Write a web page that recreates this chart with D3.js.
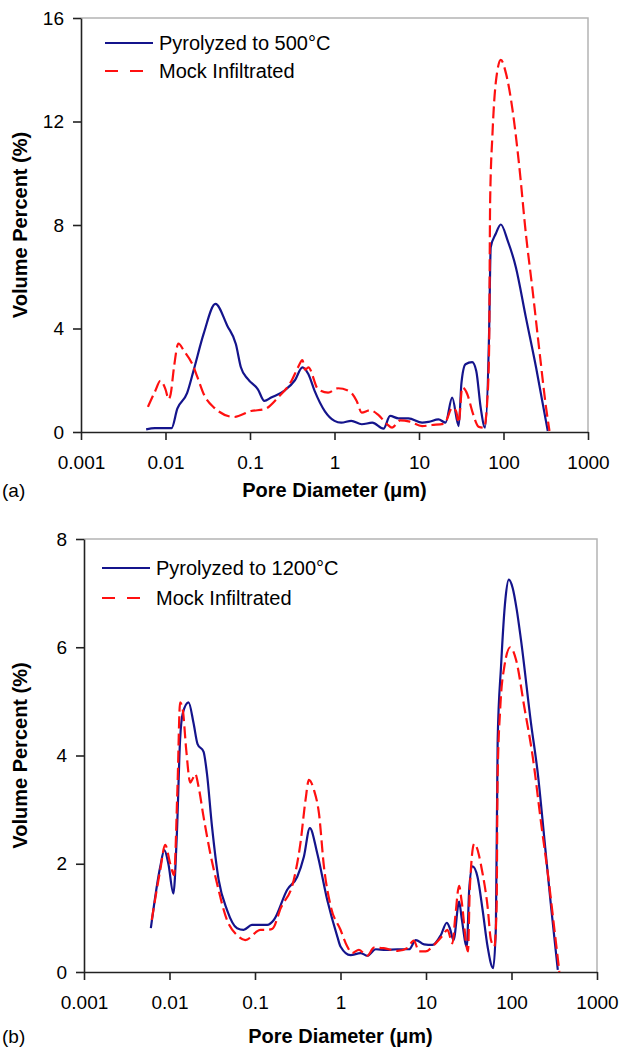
<!DOCTYPE html>
<html>
<head>
<meta charset="utf-8">
<script src="https://cdn.jsdelivr.net/npm/d3@7"></script>
<style>
  body { margin: 0; background: #fff; }
  svg { display: block; font-family: "Liberation Sans", Arial, sans-serif; }
</style>
</head>
<body>
<script>
// x ticks (pore diameter, um) shared by both panels
const xTicks = [0.001, 0.01, 0.1, 1, 10, 100, 1000];
const xTickLabels = ["0.001", "0.01", "0.1", "1", "10", "100", "1000"];

// panel (a) - pyrolyzed to 500C vs mock infiltrated
const aTicksY = [0, 4, 8, 12, 16];
const aBlueX = [0.0059, 0.0075, 0.0095, 0.0118, 0.0138, 0.018, 0.0216, 0.0283, 0.039, 0.054, 0.068, 0.078, 0.094, 0.124, 0.148, 0.178, 0.256, 0.34, 0.417, 0.49, 0.58, 0.77, 1.0, 1.2, 1.58, 2.1, 2.8, 3.8, 4.55, 5.7, 7.5, 10.9, 13, 17, 20.6, 24.7, 29.5, 31.8, 35.5, 42.6, 47.6, 53.7, 60.5, 67.6, 70.6, 81, 93, 112, 140, 184, 243, 334];
const aBlueY = [0.1, 0.15, 0.15, 0.15, 0.9, 1.5, 2.4, 3.8, 4.95, 4.1, 3.4, 2.5, 2.05, 1.65, 1.2, 1.33, 1.6, 2.0, 2.5, 2.24, 1.6, 0.8, 0.43, 0.36, 0.43, 0.3, 0.36, 0.13, 0.62, 0.53, 0.53, 0.36, 0.39, 0.49, 0.36, 1.33, 0.23, 1.9, 2.62, 2.7, 2.36, 0.94, 0.17, 3.9, 7.14, 7.66, 8.02, 7.4, 6.37, 4.43, 2.49, 0.04];
const aRedX = [0.0062, 0.0076, 0.0087, 0.01, 0.0109, 0.0115, 0.0126, 0.0142, 0.0165, 0.0208, 0.024, 0.0284, 0.0376, 0.065, 0.103, 0.148, 0.214, 0.31, 0.37, 0.417, 0.45, 0.49, 0.64, 0.84, 1.1, 1.52, 1.83, 2.1, 2.63, 3.3, 4.2, 4.8, 6.0, 7.8, 10.9, 14.3, 19.7, 21, 24.7, 27.5, 29.5, 32.5, 37.3, 42.6, 51, 58.8, 64.6, 67.6, 69.5, 74, 81, 93, 107, 128, 154, 184, 221, 266, 319, 350];
const aRedY = [0.97, 1.6, 1.98, 1.65, 1.27, 1.46, 2.5, 3.42, 3.14, 2.62, 2.1, 1.46, 0.94, 0.58, 0.81, 0.88, 1.33, 1.98, 2.5, 2.78, 2.4, 2.5, 1.65, 1.52, 1.69, 1.56, 1.2, 0.75, 0.84, 0.66, 0.3, 0.17, 0.45, 0.4, 0.23, 0.27, 0.32, 0.43, 0.94, 0.8, 0.36, 1.72, 1.46, 0.81, 0.2, 0.17, 1.33, 3.27, 8.95, 11.5, 13.5, 14.38, 13.86, 12.44, 10.24, 7.66, 5.47, 3.14, 0.94, 0.04];

// panel (b) - pyrolyzed to 1200C vs mock infiltrated
const bTicksY = [0, 2, 4, 6, 8];
const bBlueX = [0.00605, 0.0078, 0.0087, 0.0097, 0.0111, 0.0122, 0.0133, 0.0143, 0.0167, 0.0191, 0.0213, 0.025, 0.0274, 0.0314, 0.0376, 0.047, 0.0617, 0.0737, 0.092, 0.139, 0.166, 0.238, 0.312, 0.373, 0.438, 0.535, 0.70, 0.92, 1.0, 1.31, 1.72, 2.06, 2.58, 3.38, 4.63, 6.34, 7.6, 9.5, 11.9, 14.9, 17.5, 19, 21, 24.4, 26, 30, 32, 35, 40, 45.9, 52.5, 61, 65.7, 68.9, 75.4, 85, 93, 103, 115, 129, 169, 203, 243, 290, 348];
const bBlueY = [0.81, 1.95, 2.25, 2.0, 1.45, 2.56, 4.29, 4.78, 4.98, 4.6, 4.21, 4.07, 3.67, 2.69, 1.7, 1.15, 0.81, 0.78, 0.87, 0.87, 0.96, 1.52, 1.76, 2.13, 2.66, 2.19, 1.33, 0.65, 0.47, 0.31, 0.35, 0.3, 0.42, 0.41, 0.42, 0.42, 0.59, 0.51, 0.5, 0.68, 0.91, 0.81, 0.59, 1.3, 1.02, 0.47, 1.52, 1.95, 1.76, 1.15, 0.47, 0.07, 0.84, 4.29, 5.64, 6.9, 7.25, 7.1, 6.7, 6.14, 4.6, 3.67, 2.44, 1.21, 0.04];
const bRedX = [0.0062, 0.0078, 0.0089, 0.0102, 0.0113, 0.0124, 0.0133, 0.0143, 0.0157, 0.0175, 0.0188, 0.02, 0.0219, 0.025, 0.03, 0.0359, 0.047, 0.0617, 0.077, 0.116, 0.14, 0.16, 0.2, 0.284, 0.34, 0.39, 0.427, 0.49, 0.56, 0.64, 0.77, 1.0, 1.2, 1.37, 1.64, 2.06, 2.46, 3.2, 4.63, 6.0, 7.2, 8.3, 9.9, 12.4, 15.6, 17.8, 20.4, 22, 24.4, 26, 31, 32.5, 36.6, 45.9, 52.5, 57.5, 63, 67, 68.7, 74, 82.4, 96.8, 113, 141, 177, 222, 266, 318, 363];
const bRedY = [0.96, 1.89, 2.35, 2.0, 1.79, 3.42, 4.98, 4.84, 4.1, 3.5, 3.58, 3.66, 3.42, 2.87, 2.19, 1.64, 0.96, 0.68, 0.59, 0.78, 0.78, 0.8, 1.18, 1.7, 2.38, 3.18, 3.55, 3.36, 2.93, 1.95, 1.21, 0.78, 0.47, 0.35, 0.41, 0.3, 0.45, 0.44, 0.39, 0.44, 0.58, 0.38, 0.38, 0.5, 0.67, 0.78, 0.53, 1.02, 1.59, 1.33, 0.38, 1.52, 2.37, 1.82, 1.21, 0.59, 0.47, 1.21, 3.55, 4.9, 5.64, 6.0, 5.77, 4.9, 3.98, 2.75, 1.82, 0.78, 0.0];

const BLUE = "#14148c";
const RED = "#ff1010";

const svg = d3.select("body").append("svg")
  .attr("width", 623)
  .attr("height", 1047);

function drawPanel(p) {
  const x = d3.scaleLog().domain([0.001, 1000]).range([p.left, p.right]);
  const y = d3.scaleLinear().domain([0, p.yMax]).range([p.bottom, p.top]);
  const g = svg.append("g");

  // light frame on top and right
  g.append("path")
    .attr("d", `M${p.left},${p.top}H${p.right}V${p.bottom}`)
    .attr("fill", "none")
    .attr("stroke", "#b4b4b4")
    .attr("stroke-width", 1.5);

  const xAxis = g.append("g")
    .attr("transform", `translate(0,${p.bottom})`)
    .call(d3.axisBottom(x).tickValues(xTicks)
      .tickFormat((d, i) => xTickLabels[i])
      .tickSize(8).tickSizeOuter(0).tickPadding(16));
  const yAxis = g.append("g")
    .attr("transform", `translate(${p.left},0)`)
    .call(d3.axisLeft(y).tickValues(p.ticksY)
      .tickSize(8).tickSizeOuter(0).tickPadding(9));
  [xAxis, yAxis].forEach(a => {
    a.selectAll("path, line").attr("stroke", "#222").attr("stroke-width", 1.6);
    a.selectAll("text").attr("fill", "#000").style("font-size", "19px");
  });

  const line = d3.line()
    .x(d => x(d[0]))
    .y(d => y(d[1]))
    .curve(d3.curveMonotoneX);

  const blue = p.blueX.map((v, i) => [v, p.blueY[i]]);
  const red = p.redX.map((v, i) => [v, p.redY[i]]);

  g.append("path").datum(blue)
    .attr("d", line).attr("fill", "none")
    .attr("stroke", BLUE).attr("stroke-width", 2.2);
  g.append("path").datum(red)
    .attr("d", line).attr("fill", "none")
    .attr("stroke", RED).attr("stroke-width", 2.2)
    .attr("stroke-dasharray", "12,5");

  // legend
  const legend = [
    { label: p.blueLabel, color: BLUE, dash: null },
    { label: "Mock Infiltrated", color: RED, dash: "13,12" }
  ];
  legend.forEach((d, i) => {
    const ly = p.legendY + i * p.legendGap;
    g.append("line")
      .attr("x1", p.legendX).attr("x2", p.legendX + 48)
      .attr("y1", ly).attr("y2", ly)
      .attr("stroke", d.color).attr("stroke-width", 2.2)
      .attr("stroke-dasharray", d.dash);
    g.append("text")
      .attr("x", p.legendX + 54).attr("y", ly + 7)
      .style("font-size", "20px")
      .text(d.label);
  });

  // axis titles
  g.append("text")
    .attr("x", (p.left + p.right) / 2).attr("y", p.titleY)
    .attr("text-anchor", "middle")
    .style("font-size", "20px").style("font-weight", "bold")
    .text("Pore Diameter (\u03bcm)");
  g.append("text")
    .attr("transform", `translate(27,${(p.top + p.bottom) / 2}) rotate(-90)`)
    .attr("text-anchor", "middle")
    .style("font-size", "20px").style("font-weight", "bold")
    .text("Volume Percent (%)");
  g.append("text")
    .attr("x", 2).attr("y", p.titleY)
    .style("font-size", "19px")
    .text(p.tag);
}

drawPanel({
  left: 81, right: 588, top: 18, bottom: 432, yMax: 16, ticksY: aTicksY,
  blueX: aBlueX, blueY: aBlueY, redX: aRedX, redY: aRedY,
  blueLabel: "Pyrolyzed to 500\u00b0C", legendX: 105, legendY: 43, legendGap: 28,
  titleY: 497, tag: "(a)"
});

drawPanel({
  left: 84, right: 597, top: 539, bottom: 972, yMax: 8, ticksY: bTicksY,
  blueX: bBlueX, blueY: bBlueY, redX: bRedX, redY: bRedY,
  blueLabel: "Pyrolyzed to 1200\u00b0C", legendX: 102, legendY: 568, legendGap: 30,
  titleY: 1043, tag: "(b)"
});
</script>
</body>
</html>
